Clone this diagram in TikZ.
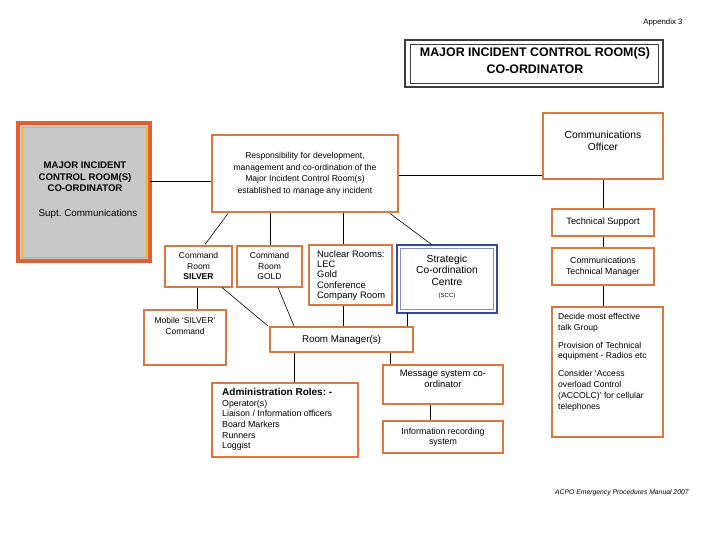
\documentclass[tikz,border=0pt]{standalone}
\usepackage{fontspec}
\setmainfont{Liberation Sans}
\frenchspacing
\definecolor{obord}{RGB}{218,120,64}
\definecolor{gfill}{RGB}{200,200,200}
\definecolor{bbord}{RGB}{52,72,160}
\definecolor{tbord}{RGB}{60,60,60}
\begin{document}
\begin{tikzpicture}[x=1pt,y=-1pt,
  obox/.style={draw=obord,line width=2pt,fill=white,inner sep=2pt,align=center},
  conn/.style={draw=black,line width=0.6pt}]
\useasboundingbox (0,0) rectangle (720,540);
\fill[white] (0,0) rectangle (720,540);
% title
\node[anchor=east,font=\fontsize{7.8}{9}\selectfont] (app) at (686,22) {Appendix 3};
\draw[tbord,line width=2.5pt] (405,40) rectangle (663,87);
\draw[tbord,line width=0.6pt] (410,44) rectangle (658,83);
\node[font=\bfseries\fontsize{12.4}{17}\selectfont,align=center] (title) at (535,61) {MAJOR INCIDENT CONTROL ROOM(S)\\CO-ORDINATOR};
% left grey box
\draw[obord!80!red,line width=3.5pt,fill=gfill] (18,123) rectangle (150,261);
\draw[obord!60!yellow,line width=0.8pt] (22,127) rectangle (146,257);
\node[font=\bfseries\fontsize{9.6}{11.5}\selectfont,align=center] (mic) at (85,177) {MAJOR INCIDENT\\CONTROL ROOM(S)\\CO-ORDINATOR};
\node[font=\fontsize{9.8}{11}\selectfont] (supt) at (88,214) {Supt. Communications};
\coordinate (micE) at (150,181);
% main boxes
\node[obox,minimum width=186pt,minimum height=77pt,font=\fontsize{8.6}{11.5}\selectfont] (resp) at (305,174) {Responsibility for development,\\management and co-ordination of the\\Major Incident Control Room(s)\\established to manage any incident};
\node[obox,minimum width=120pt,minimum height=66pt] (comm) at (603,146) {};
\node[font=\fontsize{10.3}{12.5}\selectfont,align=center] (commt) at (603,141) {Communications\\Officer};
\node[obox,minimum width=102pt,minimum height=27pt,font=\fontsize{9.2}{11}\selectfont] (tech) at (603,222.5) {Technical Support};
\node[obox,minimum width=102pt,minimum height=37pt,font=\fontsize{8.8}{10.5}\selectfont] (ctm) at (603,266.5) {Communications\\Technical Manager};
\node[obox,minimum width=111pt,minimum height=130pt] (dec) at (607.5,372) {};
\node[anchor=north west,align=left,inner sep=0pt,font=\fontsize{8.6}{10.8}\selectfont] (dect) at (558,313) {Decide most effective\\talk Group\\[7pt]Provision of Technical\\equipment~- Radios etc\\[7pt]Consider `Access\\overload Control\\(ACCOLC)' for cellular\\telephones};
\node[obox,minimum width=67pt,minimum height=41pt,font=\fontsize{8.5}{10.3}\selectfont] (silver) at (198.5,266) {Command\\Room\\\textbf{SILVER}};
\node[obox,minimum width=65pt,minimum height=41pt,font=\fontsize{8.5}{10.3}\selectfont] (gold) at (269.5,266) {Command\\Room\\GOLD};
\node[obox,minimum width=83pt,minimum height=60pt] (nuc) at (350.5,275) {};
\node[anchor=north west,align=left,inner sep=0pt,font=\fontsize{9.4}{10.4}\selectfont] (nuct) at (317,250) {Nuclear Rooms:\\LEC\\Gold\\Conference\\Company Room};
\draw[bbord,line width=1.6pt,fill=white] (397,245) rectangle (497,313);
\draw[bbord!60,line width=0.5pt] (400.5,248.5) rectangle (493.5,309.5);
\node[font=\fontsize{10.3}{11.5}\selectfont,align=center] (scctxt) at (447,270) {Strategic\\Co-ordination\\Centre};
\node[font=\fontsize{6}{6}\selectfont] (scc2) at (447,296) {(SCC)};
\node[draw=none,minimum width=100pt,minimum height=68pt,inner sep=0pt] (scc) at (447,279) {};
\node[obox,minimum width=82pt,minimum height=55pt] (mob) at (185,337.5) {};
\node[font=\fontsize{8.5}{10.5}\selectfont,align=center] (mobt) at (185,326) {Mobile `SILVER'\\Command};
\node[obox,minimum width=143pt,minimum height=25pt,font=\fontsize{9.8}{11}\selectfont] (rm) at (341.5,339.5) {Room Manager(s)};
\node[obox,minimum width=120pt,minimum height=39pt] (msg) at (443,384.5) {};
\node[font=\fontsize{9.4}{11}\selectfont,align=center] (msgt) at (443,379) {Message system co-\\ordinator};
\node[obox,minimum width=120pt,minimum height=32pt,font=\fontsize{8.8}{10}\selectfont] (info) at (443,437) {Information recording\\system};
\node[obox,minimum width=146pt,minimum height=74pt] (adm) at (285,420) {};
\node[anchor=north west,align=left,inner sep=0pt,font=\fontsize{8.8}{10.7}\selectfont] (admt) at (222,388) {{\bfseries\fontsize{10}{11.5}\selectfont Administration Roles: -}\\Operator(s)\\Liaison / Information officers\\Board Markers\\Runners\\Loggist};
% footer
\node[font=\itshape\fontsize{6.8}{7}\selectfont,anchor=west,inner sep=0pt] (foot) at (555,493) {ACPO Emergency Procedures Manual 2007};
% coordinates
\coordinate (x197) at (197,0);
\coordinate (x228) at (228,0);
\coordinate (x205) at (205,0);
\coordinate (x270) at (270,0);
\coordinate (x343) at (343,0);
\coordinate (x390) at (390,0);
\coordinate (x432) at (432,0);
\coordinate (x222) at (222,0);
\coordinate (x268) at (268,0);
\coordinate (x278) at (278,0);
\coordinate (x294) at (294,0);
\coordinate (x407) at (407,0);
\coordinate (x430) at (430,0);
\coordinate (y175) at (0,175);
\coordinate (y181) at (0,181);
% connectors
\draw[conn] (micE) -- (resp.west |- y181);
\draw[conn] (resp.east |- y175) -- (comm.west |- y175);
\draw[conn] (comm.south) -- (tech.north);
\draw[conn] (tech.south) -- (ctm.north);
\draw[conn] (ctm.south) -- (dec.north -| ctm.south);
\draw[conn] (resp.south -| x228) -- (silver.north -| x205);
\draw[conn] (resp.south -| x270) -- (gold.north -| x270);
\draw[conn] (resp.south -| x343) -- (nuc.north -| x343);
\draw[conn] (resp.south -| x390) -- (scc.north -| x432);
\draw[conn] (silver.south -| x197) -- (mob.north -| x197);
\draw[conn] (silver.south -| x222) -- (rm.north -| x268);
\draw[conn] (gold.south -| x278) -- (rm.north -| x294);
\draw[conn] (nuc.south -| x343) -- (rm.north -| x343);
\draw[conn] (scc.south -| x407) -- (rm.north -| x407);
\draw[conn] (rm.south -| x294) -- (adm.north -| x294);
\draw[conn] (rm.south -| x390) -- (msg.north -| x390);
\draw[conn] (msg.south -| x430) -- (info.north -| x430);
\end{tikzpicture}
\end{document}
